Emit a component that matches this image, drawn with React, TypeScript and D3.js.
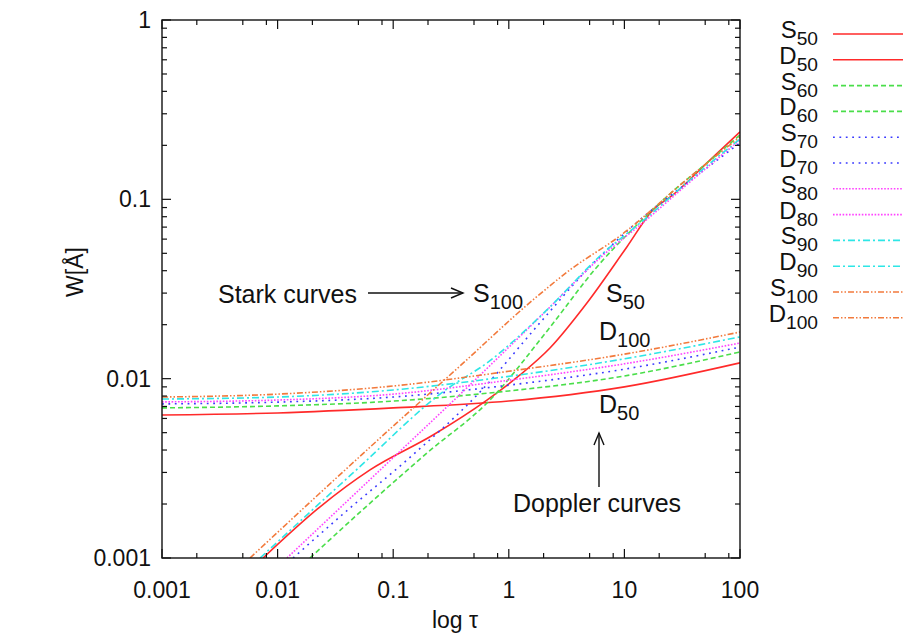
import React, { useEffect, useRef } from 'react';
import * as d3 from 'd3';

// axis ticks
const xTicks = [0.001, 0.01, 0.1, 1, 10, 100];
const xTickLabels = ['0.001', '0.01', '0.1', '1', '10', '100'];
const yTicks = [0.001, 0.01, 0.1, 1];
const yTickLabels = ['0.001', '0.01', '0.1', '1'];

// series: 50..100
const seriesNames = ['50', '60', '70', '80', '90', '100'];
const colors = ['#ff2a2a', '#4ade4a', '#3a3aff', '#ff44ff', '#2ee6e6', '#f27a3c'];
const dashes = ['none', '5,3', '1.8,4.6', '1.6,1.6', '7,3,2,3', '6,2,1.5,2,1.5,2'];

// Doppler curves (common tau grid)
const tauD = [0.001, 0.01, 0.1, 1, 10, 100];
const d50 = [0.00627, 0.00644, 0.00687, 0.0075, 0.009, 0.01225];
const d60 = [0.00687, 0.00705, 0.0075, 0.00854, 0.01035, 0.0141];
const d70 = [0.00723, 0.0074, 0.0079, 0.0092, 0.0113, 0.015];
const d80 = [0.00742, 0.0076, 0.0082, 0.0098, 0.0121, 0.0158];
const d90 = [0.0077, 0.0079, 0.00865, 0.0103, 0.0129, 0.0171];
const d100 = [0.0079, 0.0082, 0.0091, 0.011, 0.0137, 0.0182];

// Stark curves
const s50Tau = [0.00748, 0.0233, 0.063, 0.221, 0.647, 1.25, 2.27, 4.74, 10.5, 17.66, 26.3, 51.8, 100];
const s50 = [0.001, 0.00193, 0.0031, 0.00485, 0.0076, 0.01049, 0.01483, 0.02643, 0.05425, 0.0873, 0.1058, 0.1596, 0.2376];
const s60Tau = [0.01905, 0.0605, 0.196, 0.687, 2.18, 5.79, 13.6, 26.3, 51.8, 100];
const s60 = [0.001, 0.001975, 0.00385, 0.0076, 0.0187, 0.042, 0.0747, 0.111, 0.1596, 0.2286];
const s70Tau = [0.0136, 0.0423, 0.1315, 0.5636, 1.862, 4.74, 13.6, 36.9, 100];
const s70 = [0.001, 0.0019, 0.00352, 0.00843, 0.0205, 0.0404, 0.0768, 0.1268, 0.2065];
const s80Tau = [0.01205, 0.0739, 0.461, 0.927, 1.862, 6.15, 16.6, 36.9, 100];
const s80 = [0.001, 0.003017, 0.00923, 0.01427, 0.0221, 0.0471, 0.0798, 0.125, 0.2143];
const s90Tau = [0.00705, 0.0449, 0.2917, 0.6476, 2.14, 6.15, 16.6, 36.9, 100];
const s90 = [0.001, 0.00298, 0.00876, 0.01224, 0.0242, 0.0483, 0.0818, 0.1282, 0.2172];
const s100Tau = [0.00577, 0.02328, 0.0938, 0.3783, 1.62, 3.38, 9.16, 36.9, 100];
const s100 = [0.001, 0.002304, 0.00524, 0.01177, 0.0275, 0.0404, 0.0625, 0.1334, 0.2229];

const starkTau = [s50Tau, s60Tau, s70Tau, s80Tau, s90Tau, s100Tau];
const starkW = [s50, s60, s70, s80, s90, s100];
const dopplerW = [d50, d60, d70, d80, d90, d100];

const FONT = '"Liberation Sans", Arial, Helvetica, sans-serif';

export default function App() {
  const ref = useRef<SVGSVGElement>(null);

  useEffect(() => {
    const left = 162, right = 740, top = 20, bottom = 558;
    const svg = d3.select(ref.current);
    svg.selectAll('*').remove();

    const x = d3.scaleLog().domain([0.001, 100]).range([left, right]);
    const y = d3.scaleLog().domain([0.001, 1]).range([bottom, top]);

    svg.append('rect').attr('width', 903).attr('height', 638).attr('fill', '#fff');

    svg.append('defs').append('clipPath').attr('id', 'plotclip')
      .append('rect').attr('x', left).attr('y', top)
      .attr('width', right - left).attr('height', bottom - top);

    const line = d3.line<[number, number]>()
      .x(d => x(d[0]))
      .y(d => y(d[1]))
      .curve(d3.curveMonotoneX);

    const curves = svg.append('g').attr('clip-path', 'url(#plotclip)');
    seriesNames.forEach((n, i) => {
      const sPts = starkTau[i].map((t, j) => [t, starkW[i][j]] as [number, number]);
      const dPts = tauD.map((t, j) => [t, dopplerW[i][j]] as [number, number]);
      [sPts, dPts].forEach(pts => {
        curves.append('path')
          .attr('d', line(pts))
          .attr('fill', 'none')
          .attr('stroke', colors[i])
          .attr('stroke-width', 1.6)
          .attr('stroke-dasharray', dashes[i]);
      });
    });

    // ticks
    const ticks = svg.append('g').attr('stroke', '#111').attr('stroke-width', 1.2);
    const major = 9, minor = 5;
    xTicks.forEach((t, i) => {
      const px = x(t);
      ticks.append('line').attr('x1', px).attr('x2', px).attr('y1', bottom).attr('y2', bottom - major);
      ticks.append('line').attr('x1', px).attr('x2', px).attr('y1', top).attr('y2', top + major);
      if (i < xTicks.length - 1) {
        [2, 5, 8].forEach(k => {
          const mx = x(t * k);
          ticks.append('line').attr('x1', mx).attr('x2', mx).attr('y1', bottom).attr('y2', bottom - minor);
          ticks.append('line').attr('x1', mx).attr('x2', mx).attr('y1', top).attr('y2', top + minor);
        });
      }
    });
    yTicks.forEach((t, i) => {
      const py = y(t);
      ticks.append('line').attr('x1', left).attr('x2', left + major).attr('y1', py).attr('y2', py);
      ticks.append('line').attr('x1', right).attr('x2', right - major).attr('y1', py).attr('y2', py);
      if (i < yTicks.length - 1) {
        d3.range(2, 10).forEach(k => {
          const my = y(t * k);
          ticks.append('line').attr('x1', left).attr('x2', left + minor).attr('y1', my).attr('y2', my);
          ticks.append('line').attr('x1', right).attr('x2', right - minor).attr('y1', my).attr('y2', my);
        });
      }
    });

    svg.append('rect').attr('x', left).attr('y', top)
      .attr('width', right - left).attr('height', bottom - top)
      .attr('fill', 'none').attr('stroke', '#111').attr('stroke-width', 1.4);

    const txt = svg.append('g').attr('font-family', FONT).attr('fill', '#111');

    xTicks.forEach((t, i) => {
      txt.append('text').attr('x', x(t)).attr('y', 598)
        .attr('text-anchor', 'middle').attr('font-size', 23).text(xTickLabels[i]);
    });
    yTicks.forEach((t, i) => {
      txt.append('text').attr('x', 151).attr('y', y(t) + 8)
        .attr('text-anchor', 'end').attr('font-size', 23).text(yTickLabels[i]);
    });

    txt.append('text').attr('x', 455).attr('y', 628)
      .attr('text-anchor', 'middle').attr('font-size', 23).text('log τ');
    txt.append('text').attr('transform', 'translate(83,272) rotate(-90)')
      .attr('text-anchor', 'middle').attr('font-size', 23).text('W[Å]');

    const sub = (sel: any, x0: number, y0: number, main: string, s: string, anchor = 'start', size = 25) => {
      const t = sel.append('text').attr('x', x0).attr('y', y0)
        .attr('text-anchor', anchor).attr('font-size', size);
      t.append('tspan').text(main);
      t.append('tspan').attr('dy', 7).attr('font-size', size * 0.8).text(s);
    };

    // annotations
    txt.append('text').attr('x', 218).attr('y', 303).attr('font-size', 25).text('Stark curves');
    sub(txt, 473, 302, 'S', '100');
    sub(txt, 606, 302, 'S', '50');
    sub(txt, 599, 340, 'D', '100');
    sub(txt, 599, 413, 'D', '50');
    txt.append('text').attr('x', 597).attr('y', 512)
      .attr('text-anchor', 'middle').attr('font-size', 25).text('Doppler curves');

    const arr = svg.append('g').attr('stroke', '#111').attr('stroke-width', 1.4).attr('fill', 'none');
    arr.append('line').attr('x1', 368).attr('x2', 463).attr('y1', 293).attr('y2', 293);
    arr.append('path').attr('d', 'M451,288 L463,293 L451,298');
    arr.append('line').attr('x1', 599).attr('x2', 599).attr('y1', 487).attr('y2', 433);
    arr.append('path').attr('d', 'M594,445 L599,433 L604,445');

    // legend
    seriesNames.forEach((n, i) => {
      ['S', 'D'].forEach((k, j) => {
        const row = i * 2 + j;
        const ly = 34 + row * 25.8;
        sub(txt, 818, ly + 4, k, n, 'end', 24);
        svg.append('line').attr('x1', 833).attr('x2', 903).attr('y1', ly).attr('y2', ly)
          .attr('stroke', colors[i]).attr('stroke-width', 1.6)
          .attr('stroke-dasharray', dashes[i]);
      });
    });
  }, []);

  return (
    <div style={{ position: 'absolute', left: 0, top: 0 }}>
      <svg ref={ref} width={903} height={638} style={{ display: 'block' }} />
    </div>
  );
}
